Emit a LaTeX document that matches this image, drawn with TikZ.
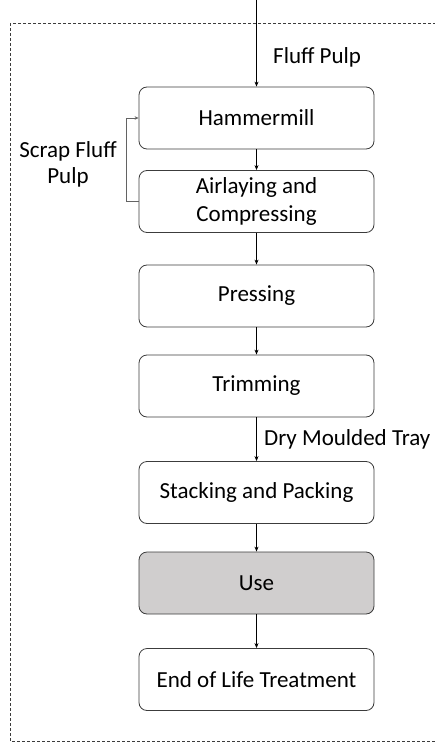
\documentclass[tikz,border=0pt]{standalone}
\usepackage{fontspec}
\setmainfont{Carlito}
\usetikzlibrary{arrows.meta}
\definecolor{edge}{RGB}{60,60,60}
\definecolor{usefill}{RGB}{208,206,206}
\begin{document}
\begin{tikzpicture}[x=1pt,y=-1pt,
  stepbox/.style={draw=edge,line width=0.8pt,rounded corners=8pt,minimum width=235pt,minimum height=62pt,
    align=center,font=\fontsize{23}{28}\selectfont,inner sep=0pt},
  flow/.style={draw=black,line width=0.7pt,-{Stealth[length=5pt,width=4pt]}},
  lbl/.style={font=\fontsize{23}{26}\selectfont,align=center,inner sep=0pt}]
\useasboundingbox (0,0) rectangle (435,743);
% dashed system boundary (right side runs along the page edge)
\draw[dashed,draw=edge,line width=0.6pt,dash pattern=on 3pt off 2pt] (10,23) rectangle (435,741);
% process steps
\node[stepbox] (ham) at (256.5,118) {Hammermill};
\node[stepbox] (air) at (256.5,201.5) {Airlaying and\\Compressing};
\node[stepbox] (prs) at (256.5,296) {Pressing};
\node[stepbox] (trm) at (256.5,386) {Trimming};
\node[stepbox] (stk) at (256.5,492.5) {Stacking and Packing};
\node[stepbox,fill=usefill] (use) at (256.5,583) {Use};
\node[stepbox] (eol) at (256.5,679.5) {End of Life Treatment};
% input flow
\coordinate (in) at (256.5,0);
\draw[flow] (in) -- (ham.north);
\node[lbl,anchor=west] (fp) at (273,57) {Fluff Pulp};
% main chain
\draw[flow] (ham) -- (air);
\draw[flow] (air) -- (prs);
\draw[flow] (prs) -- (trm);
\draw[flow] (trm) -- (stk);
\node[lbl,anchor=west] (dmt) at (264,439) {Dry Moulded Tray};
\draw[flow] (stk) -- (use);
\draw[flow] (use) -- (eol);
% scrap recycle loop
\draw[draw=edge!80,line width=0.5pt,-{Stealth[length=4pt,width=3.5pt]}]
  (air.west) -- (126,201.5) -- (126,118) -- (ham.west);
\node[lbl] (scrap) at (68,164) {Scrap Fluff\\Pulp};
\end{tikzpicture}
\end{document}
